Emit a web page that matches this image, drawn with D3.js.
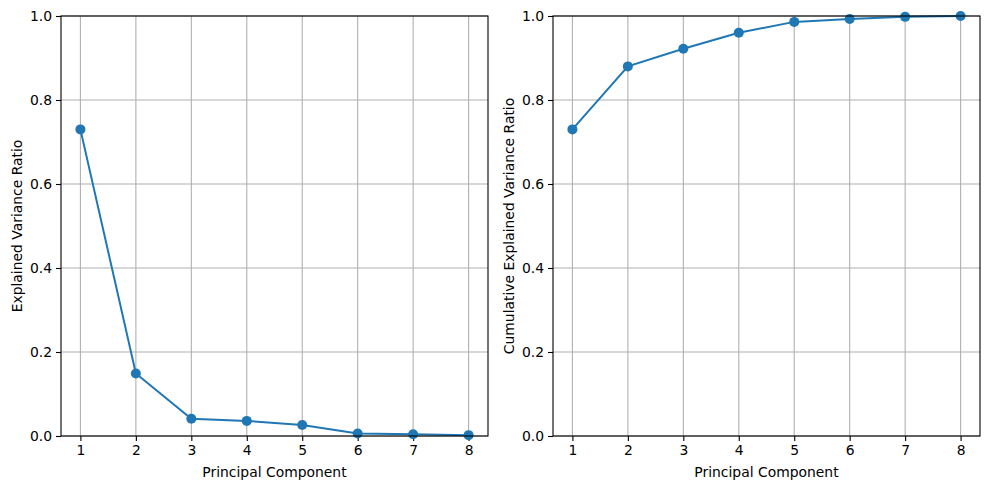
<!DOCTYPE html>
<html><head><meta charset="utf-8">
<script src="https://cdn.jsdelivr.net/npm/d3@7"></script>
<style>body{margin:0;background:#fff}svg{display:block}text{font-family:"DejaVu Sans",sans-serif;fill:#000}</style>
</head><body><svg id="c" width="989" height="490"></svg>
<script>
const components = [1,2,3,4,5,6,7,8];
const explained = [0.730, 0.149, 0.041, 0.036, 0.026, 0.006, 0.004, 0.002];
const cumulative = [0.730, 0.880, 0.922, 0.960, 0.986, 0.993, 0.998, 1.000];
const yTicks = [0.0, 0.2, 0.4, 0.6, 0.8, 1.0];
const xTicks = [1,2,3,4,5,6,7,8];

const svg = d3.select("#c");
const fs = 13.9;
function panel(x0, x1, y0, y1, values, ylabel){
  const x = d3.scaleLinear().domain([0.65, 8.35]).range([x0, x1]);
  const y = d3.scaleLinear().domain([0, 1]).range([y1, y0]);
  const g = svg.append("g");
  g.selectAll(".gx").data(xTicks).join("line")
    .attr("x1", d=>x(d)).attr("x2", d=>x(d)).attr("y1", y0).attr("y2", y1)
    .attr("stroke", "#b0b0b0").attr("stroke-width", 1.1);
  g.selectAll(".gy").data(yTicks).join("line")
    .attr("x1", x0).attr("x2", x1).attr("y1", d=>y(d)).attr("y2", d=>y(d))
    .attr("stroke", "#b0b0b0").attr("stroke-width", 1.1);
  const xa = g.append("g").attr("transform", `translate(0,${y1})`)
    .call(d3.axisBottom(x).tickValues(xTicks).tickSize(5).tickPadding(4).tickFormat(d3.format("d")));
  const ya = g.append("g").attr("transform", `translate(${x0},0)`)
    .call(d3.axisLeft(y).tickValues(yTicks).tickSize(5).tickPadding(4).tickFormat(d3.format(".1f")));
  [xa, ya].forEach(a => {
    a.select(".domain").remove();
    a.selectAll("line").attr("stroke", "#000").attr("stroke-width", 1.1);
    a.selectAll("text").attr("font-size", fs).attr("font-family", "DejaVu Sans").attr("fill", "#000");
  });
  const pts = components.map((c,i)=>[c, values[i]]);
  g.append("path").datum(pts)
    .attr("d", d3.line().x(d=>x(d[0])).y(d=>y(d[1])))
    .attr("fill", "none").attr("stroke", "#1f77b4").attr("stroke-width", 2);
  g.selectAll(".pt").data(pts).join("circle")
    .attr("cx", d=>x(d[0])).attr("cy", d=>y(d[1])).attr("r", 5).attr("fill", "#1f77b4");
  g.append("rect").attr("x", x0).attr("y", y0).attr("width", x1-x0).attr("height", y1-y0)
    .attr("fill", "none").attr("stroke", "#000").attr("stroke-width", 1.1);
  g.append("text").attr("x", (x0+x1)/2).attr("y", 477).attr("text-anchor", "middle")
    .attr("font-size", fs).text("Principal Component");
  g.append("text").attr("transform", `translate(${x0-39},${(y0+y1)/2}) rotate(-90)`)
    .attr("text-anchor", "middle").attr("font-size", fs).text(ylabel);
}
panel(61, 488, 16, 436, explained, "Explained Variance Ratio");
panel(553, 980, 16, 436, cumulative, "Cumulative Explained Variance Ratio");
</script></body></html>
